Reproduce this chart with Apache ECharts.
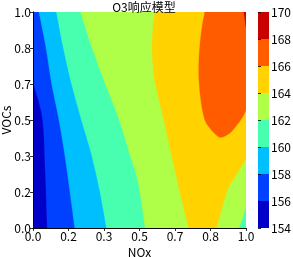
<!DOCTYPE html>
<html><head><meta charset="utf-8">
<script src="https://cdn.jsdelivr.net/npm/echarts@6/dist/echarts.min.js"></script>
<style>html,body{margin:0;padding:0;background:#fff}#c{width:293px;height:257px}</style>
</head><body><div id="c"></div>
<script>
// ---- data ----
const levels = [154, 156, 158, 160, 162, 164, 166, 168, 170];
const levelColors = ['#0000c8', '#0040ff', '#00bfff', '#48ffaf', '#afff48', '#ffd200', '#ff5c00', '#c80000'];
// contour lines as [NOx, VOCs] points
const c156 = [[0.067, 0], [0.058, 0.253], [0.044, 0.509], [0, 0.672]];
const c158 = [[0.196, 0], [0.173, 0.169], [0.149, 0.339], [0.12, 0.509], [0.087, 0.67], [0.06, 0.84], [0.028, 1]];
const c160 = [[0.345, 0], [0.314, 0.169], [0.275, 0.339], [0.226, 0.505], [0.18, 0.67], [0.141, 0.84], [0.11, 1]];
const c162a = [[0.527, 0], [0.493, 0.215], [0.455, 0.339], [0.403, 0.505], [0.338, 0.67], [0.275, 0.84], [0.223, 1]];
const c162b = [[1, 0.10], [0.985, 0.05], [0.967, 0]];
const c164a = [[0.731, 0], [0.689, 0.169], [0.65, 0.339], [0.613, 0.505], [0.574, 0.67], [0.564, 0.747], [0.559, 0.84], [0.564, 0.933], [0.573, 1]];
const c164b = [[1, 0.32], [0.95, 0.24], [0.91, 0.169], [0.862, 0]];
const c166 = [[1, 0.546], [0.985, 0.515], [0.96, 0.48], [0.93, 0.445], [0.90, 0.425], [0.877, 0.42], [0.855, 0.435], [0.83, 0.463], [0.807, 0.5], [0.79, 0.578], [0.78, 0.67], [0.778, 0.747], [0.783, 0.84], [0.794, 0.933], [0.807, 1]];
const c168 = [[0.99, 1], [1, 0.93]];
const xName = 'NOx';
const yName = 'VOCs';
const titleText = 'O3响应模型';

// regions where value >= level[i], built from the contour lines and the plot edges
const regions = [
  [{line: [[0, 0], [0, 1], [1, 1], [1, 0]]}],
  [{curve: c156}, {line: [[0, 1], [1, 1], [1, 0]]}],
  [{curve: c158}, {line: [[1, 1], [1, 0]]}],
  [{curve: c160}, {line: [[1, 1], [1, 0]]}],
  [{curve: c162a}, {line: [[1, 1]]}, {curve: c162b}],
  [{curve: c164a}, {line: [[1, 1]]}, {curve: c164b}],
  [{curve: c166}, {line: [[1, 1]]}],
  [{curve: c168}, {line: [[1, 1]]}]
];

const FONT = '"Noto Sans CJK SC", "Noto Sans", sans-serif';

function buildPath(parts, api) {
  let d = '';
  const f = v => v.toFixed(2);
  parts.forEach(part => {
    if (part.line) {
      part.line.forEach(p => {
        const q = api.coord(p);
        d += (d ? 'L' : 'M') + f(q[0]) + ' ' + f(q[1]) + ' ';
      });
    } else {
      const P = part.curve.map(p => api.coord(p));
      d += (d ? 'L' : 'M') + f(P[0][0]) + ' ' + f(P[0][1]) + ' ';
      for (let i = 0; i < P.length - 1; i++) {
        const p0 = P[Math.max(i - 1, 0)], p1 = P[i], p2 = P[i + 1], p3 = P[Math.min(i + 2, P.length - 1)];
        const c1 = [p1[0] + (p2[0] - p0[0]) / 6, p1[1] + (p2[1] - p0[1]) / 6];
        const c2 = [p2[0] - (p3[0] - p1[0]) / 6, p2[1] - (p3[1] - p1[1]) / 6];
        d += 'C' + f(c1[0]) + ' ' + f(c1[1]) + ' ' + f(c2[0]) + ' ' + f(c2[1]) + ' ' + f(p2[0]) + ' ' + f(p2[1]) + ' ';
      }
    }
  });
  return d + 'Z';
}

const chart = echarts.init(document.getElementById('c'), null, {renderer: 'canvas'});
const lbl = {color: '#000', fontSize: 12, fontFamily: FONT};
chart.setOption({
  animation: false,
  title: {text: titleText, left: 139, top: -4, textAlign: 'center',
    textStyle: {fontSize: 12, fontWeight: 'normal', color: '#000', fontFamily: FONT}},
  graphic: [
    {type: 'text', x: 6, y: 120, rotation: Math.PI / 2, silent: true,
      style: {text: yName, align: 'center', verticalAlign: 'middle', fill: '#000', fontSize: 12, fontFamily: FONT}}
  ],
  grid: [
    {left: 33, top: 12, width: 213, height: 216, containLabel: false, outerBoundsMode: 'none'},
    {left: 258, top: 12, width: 11, height: 216, containLabel: false, outerBoundsMode: 'none'}
  ],
  xAxis: [
    {gridIndex: 0, type: 'value', min: 0, max: 1, interval: 1 / 6, z: 10,
      name: xName, nameLocation: 'middle', nameGap: 15, nameTextStyle: lbl,
      axisLine: {show: true, lineStyle: {color: '#000', width: 0.8}},
      axisTick: {show: true, length: 3, lineStyle: {color: '#000', width: 0.8}},
      axisLabel: Object.assign({margin: 2, formatter: v => v.toFixed(1)}, lbl),
      splitLine: {show: false}},
    {gridIndex: 0, type: 'value', min: 0, max: 1, position: 'top', z: 10,
      axisLine: {show: true, lineStyle: {color: '#000', width: 0.8}},
      axisTick: {show: false}, axisLabel: {show: false}, splitLine: {show: false}},
    {gridIndex: 1, type: 'value', min: 0, max: 1, show: false}
  ],
  yAxis: [
    {gridIndex: 0, type: 'value', min: 0, max: 1, interval: 1 / 6, z: 10,
      axisLine: {show: true, lineStyle: {color: '#000', width: 0.8}},
      axisTick: {show: true, length: 3, lineStyle: {color: '#000', width: 0.8}},
      axisLabel: Object.assign({margin: 2, formatter: v => v.toFixed(1)}, lbl),
      splitLine: {show: false}},
    {gridIndex: 0, type: 'value', min: 0, max: 1, position: 'right', z: 10,
      axisLine: {show: true, lineStyle: {color: '#000', width: 0.8}},
      axisTick: {show: false}, axisLabel: {show: false}, splitLine: {show: false}},
    {gridIndex: 1, type: 'value', min: levels[0], max: levels[levels.length - 1], interval: 2,
      position: 'right', z: 10,
      axisLine: {show: false},
      axisTick: {show: true, length: 3, lineStyle: {color: '#000', width: 0.8}},
      axisLabel: Object.assign({margin: 2}, lbl),
      splitLine: {show: false}}
  ],
  series: [
    {type: 'custom', xAxisIndex: 0, yAxisIndex: 0, clip: true, silent: true,
      data: levelColors.map((c, i) => [i]),
      renderItem: (params, api) => ({
        type: 'path',
        shape: {pathData: buildPath(regions[params.dataIndex], api)},
        style: {fill: levelColors[params.dataIndex], stroke: levelColors[params.dataIndex], lineWidth: 0.3}
      })},
    {type: 'custom', xAxisIndex: 2, yAxisIndex: 2, silent: true,
      data: levelColors.map((c, i) => [i]),
      renderItem: (params, api) => {
        const i = params.dataIndex;
        const a = api.coord([0, levels[i]]), b = api.coord([1, levels[i + 1]]);
        return {type: 'rect', shape: {x: a[0], y: b[1], width: b[0] - a[0], height: a[1] - b[1]},
          style: {fill: levelColors[i]}};
      }}
  ]
});
</script></body></html>
